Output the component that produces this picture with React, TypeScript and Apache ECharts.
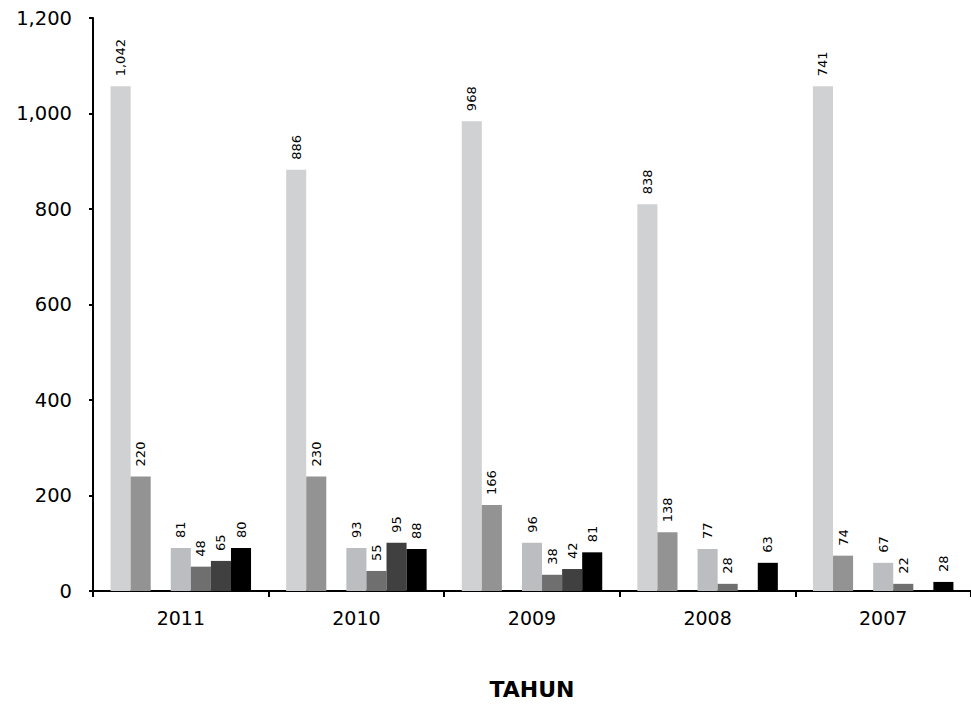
import React, { useEffect, useRef } from 'react';
import * as echarts from 'echarts';

const categories = ['2011', '2010', '2009', '2008', '2007'];
const yTicks = [0, 200, 400, 600, 800, 1000, 1200];

// bar heights as drawn
const barsA = [1057, 882, 984, 810, 1057];
const barsB = [240, 240, 180, 123, 74];
const barsEmpty = [null, null, null, null, null];
const barsC = [90, 90, 101, 88, 59];
const barsD = [51, 42, 34, 15, 15];
const barsE = [63, 101, 46, null, null];
const barsF = [90, 88, 81, 59, 19];

// label texts printed above the bars
const labelsA = ['1,042', '886', '968', '838', '741'];
const labelsB = ['220', '230', '166', '138', '74'];
const labelsEmpty = ['', '', '', '', ''];
const labelsC = ['81', '93', '96', '77', '67'];
const labelsD = ['48', '55', '38', '28', '22'];
const labelsE = ['65', '95', '42', '', ''];
const labelsF = ['80', '88', '81', '63', '28'];

const colors = ['#D0D1D3', '#939393', '#FFFFFF', '#BCBDC0', '#6F6F6F', '#404040', '#000000'];
const allBars = [barsA, barsB, barsEmpty, barsC, barsD, barsE, barsF];
const allLabels = [labelsA, labelsB, labelsEmpty, labelsC, labelsD, labelsE, labelsF];

const FONT = 'DejaVu Sans';

export default function App() {
  const ref = useRef<HTMLDivElement>(null);
  useEffect(() => {
    if (!ref.current) return;
    const chart = echarts.init(ref.current, undefined, { renderer: 'svg' });
    const series = allBars.map((data, i) => ({
      type: 'bar' as const,
      name: 'S' + (i + 1),
      data,
      barGap: '0%',
      barCategoryGap: '20%',
      itemStyle: { color: colors[i] },
      label: {
        show: true,
        position: 'top' as const,
        rotate: 90,
        align: 'left' as const,
        verticalAlign: 'middle' as const,
        distance: 10,
        fontFamily: FONT,
        fontSize: 13,
        color: '#000',
        formatter: (p: any) => allLabels[i][p.dataIndex] || '',
      },
    }));
    chart.setOption({
      animation: false,
      backgroundColor: '#fff',
      grid: { left: 93, right: -5, top: 18, bottom: 114, containLabel: false },
      xAxis: {
        type: 'category',
        data: categories,
        name: 'TAHUN',
        nameLocation: 'middle',
        nameGap: 87,
        nameTextStyle: { fontFamily: FONT, fontSize: 22, fontWeight: 'bold', color: '#000' },
        axisLine: { lineStyle: { color: '#000', width: 2 } },
        axisTick: { show: true, length: 6, lineStyle: { color: '#000', width: 2 } },
        axisLabel: { fontFamily: FONT, fontSize: 19, color: '#000', margin: 17 },
      },
      yAxis: {
        type: 'value',
        min: yTicks[0],
        max: yTicks[yTicks.length - 1],
        interval: 200,
        splitLine: { show: false },
        axisLine: { show: true, lineStyle: { color: '#000', width: 2 } },
        axisTick: { show: true, length: 4, lineStyle: { color: '#000', width: 2 } },
        axisLabel: {
          fontFamily: FONT,
          fontSize: 19.5,
          color: '#000',
          margin: 21,
          formatter: (v: number) => v.toLocaleString('en-US'),
        },
      },
      series,
    });
    return () => chart.dispose();
  }, []);
  return (
    <div
      ref={ref}
      style={{ position: 'absolute', left: 0, top: 0, width: 971, height: 705, background: '#fff' }}
    />
  );
}
